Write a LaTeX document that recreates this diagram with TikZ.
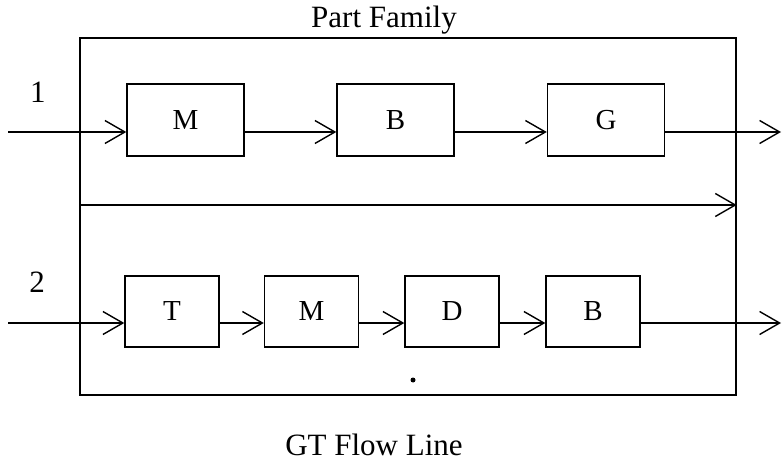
\documentclass[tikz,border=0pt]{standalone}
\usepackage{fontspec}
\setmainfont{Liberation Serif}
\usetikzlibrary{arrows.meta}
\begin{document}
\begin{tikzpicture}[x=1pt,y=-1pt, line width=1.4pt,
  proc/.style={draw, inner sep=0pt, font=\fontsize{29}{30}\selectfont},
  wide/.style={proc, minimum width=117pt, minimum height=72pt},
  narrow/.style={proc, minimum width=94pt, minimum height=71pt},
  flow/.style={-{Straight Barb[length=20pt,width=23pt,line width=1.4pt]}},
  lbl/.style={font=\fontsize{31}{32}\selectfont, inner sep=0pt}]
\useasboundingbox (0,0) rectangle (782,465);
\node[draw, minimum width=656pt, minimum height=357pt, inner sep=0pt] (family) at (408,216.5) {};
% row 1
\node[wide] (m1) at (185.5,120) {M};
\node[wide] (b1) at (395.5,120) {B};
\node[wide] (g1) at (606,120) {G};
% row 2
\node[narrow] (t2) at (172,311.5) {T};
\node[narrow] (m2) at (311.5,311.5) {M};
\node[narrow] (d2) at (452,311.5) {D};
\node[narrow] (b2) at (593,311.5) {B};
% coordinates
\coordinate (in1) at (8,132);
\coordinate (out1) at (781,132);
\coordinate (mid) at (80,205);
\coordinate (in2) at (8,323);
\coordinate (out2) at (781,323);
% row 1 flow
\draw[flow] (in1) -- (in1 -| m1.west);
\draw[flow] (m1.east |- in1) -- (b1.west |- in1);
\draw[flow] (b1.east |- in1) -- (g1.west |- in1);
\draw[flow] (g1.east |- in1) -- (out1);
% middle line
\draw[flow] (family.west |- mid) -- (family.east |- mid);
% row 2 flow
\draw[flow] (in2) -- (in2 -| t2.west);
\draw[flow] (t2.east |- in2) -- (m2.west |- in2);
\draw[flow] (m2.east |- in2) -- (d2.west |- in2);
\draw[flow] (d2.east |- in2) -- (b2.west |- in2);
\draw[flow] (b2.east |- in2) -- (out2);
% labels
\node[lbl] (one) at (38,92) {1};
\node[lbl] (two) at (37,282) {2};
\node[lbl, anchor=base] (pf) at (384,28) {Part Family};
\node[lbl, anchor=base] (gt) at (374,455) {GT Flow Line};
\node[circle, fill, inner sep=0pt, minimum size=5pt] (dot) at (413,380) {};
\end{tikzpicture}
\end{document}
